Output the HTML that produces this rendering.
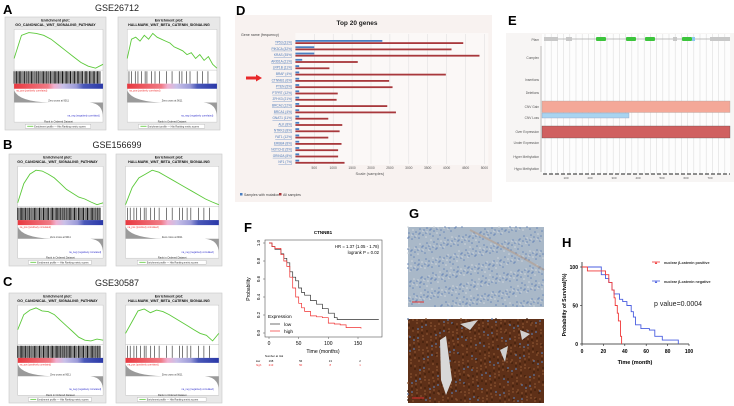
<!DOCTYPE html>
<html><head><meta charset="utf-8"><style>
html,body{margin:0;padding:0;background:#fff;width:734px;height:406px;overflow:hidden}
svg{display:block;font-family:"Liberation Sans",sans-serif}
</style></head><body>
<svg id="fig" width="734" height="406" viewBox="0 0 734 406" xmlns="http://www.w3.org/2000/svg">
<g font-weight="bold" font-size="13" fill="#000">
<text x="3" y="14">A</text>
<text x="3" y="149">B</text>
<text x="3" y="286">C</text>
<text x="236" y="15">D</text>
<text x="508" y="25">E</text>
<text x="244" y="232">F</text>
<text x="409" y="218">G</text>
<text x="562" y="247">H</text>
</g>
<g font-size="9" fill="#222" text-anchor="middle">
<text x="117" y="11">GSE26712</text>
<text x="117" y="148">GSE156699</text>
<text x="117" y="286">GSE30587</text>
</g>
<g id="gsea"></g>
<g id="panelD"></g>
<g id="panelE"></g>
<g id="panelF"></g>
<g id="panelG"></g>
<g id="panelH"></g>
</svg>
<script>
// ---- GSEA data ----
const esA1=[0.3,0.9,0.97,0.95,0.9,0.8,0.65,0.5,0.35,0.2,0.1,0.05,0.15];
const esA2=[0.3,0.8,0.85,0.75,0.9,0.8,0.95,0.85,0.8,0.75,0.7,0.6,0.55,0.5,0.4,0.45,0.3,0.4,0.25,0.35,0.15,0.05];
const esB1=[0.1,0.6,0.85,0.95,0.93,0.85,0.75,0.6,0.45,0.35,0.25,0.2,0.12,0.05,0.1];
const esB2=[0.05,0.5,0.75,0.85,0.95,0.9,0.8,0.7,0.6,0.5,0.4,0.3,0.2,0.12,0.05];
const esC1=[0.4,0.8,0.92,0.98,0.9,0.88,0.8,0.65,0.5,0.35,0.2,0.12,0.1,0.15,0.12];
const esC2=[0.3,0.6,0.9,0.95,0.85,0.92,0.88,0.8,0.7,0.6,0.5,0.4,0.3,0.25,0.1,0.3];
const hitsSparse=[0.02,0.05,0.09,0.12,0.16,0.2,0.22,0.27,0.31,0.36,0.44,0.5,0.58,0.61,0.66,0.7,0.78,0.84,0.9];
// ---- Panel D data ----
const genes=["TP53 (31%)","PIK3CA (32%)","KRAS (35%)","ARID1A (21%)","LRP1B (11%)","BRAF (4%)","CTNNB1 (6%)","PTEN (5%)","PTPRT (12%)","ZFHX3 (21%)","BRCA2 (12%)","BRCA1 (4%)","GNAT1 (11%)","ALK (8%)","NTRK3 (8%)","FAT1 (12%)","ERBB4 (8%)","NOTCH2 (5%)","GRIN2A (8%)","NF1 (7%)"];
const mutSamples=[2300,500,500,180,100,100,100,100,100,100,100,100,100,100,100,100,100,100,100,100];
const allSamples=[4440,4130,4870,1650,900,3980,2480,2570,1120,1090,2430,2660,870,1240,1170,870,1220,1130,1130,1300];
const dTicks=[500,1000,1500,2000,2500,3000,3500,4000,4500,5000];
// ---- Panel F data ----
const kmLowT=[0,5,10,20,25,30,35,40,45,50,55,60,70,80,90,100,110,115,130,150,185];
const kmLowS=[1,0.96,0.93,0.88,0.83,0.78,0.68,0.62,0.58,0.5,0.45,0.42,0.36,0.32,0.27,0.22,0.17,0.15,0.15,0.15,0.15];
const kmHighT=[0,5,10,20,25,30,35,40,45,50,55,60,70,80,90,100,110,120,130,155];
const kmHighS=[1,0.96,0.94,0.87,0.8,0.74,0.62,0.5,0.4,0.33,0.28,0.24,0.19,0.18,0.17,0.11,0.1,0.09,0.06,0.05];
const fXTicks=[0,50,100,150];
const fYTicks=[0,0.2,0.4,0.6,0.8,1.0];
// ---- Panel H data ----
const hPosT=[0,5,20,22,25,28,30,31,33,34,36,37];
const hPosS=[100,95,95,90,80,70,60,50,40,30,10,0];
const hNegT=[0,15,18,22,25,28,30,35,38,42,46,48,50,55,63,68,75,90];
const hNegS=[100,100,90,85,80,70,65,58,55,50,42,35,25,20,18,10,5,0];
const hXTicks=[0,20,40,60,80,100];
const hYTicks=[0,50,100];

const NS="http://www.w3.org/2000/svg";
function mk(parent,tag,attrs,text){const e=document.createElementNS(NS,tag);for(const k in attrs)e.setAttribute(k,attrs[k]);if(text!==undefined)e.textContent=text;parent.appendChild(e);return e;}

// ---------- GSEA ----------
const gsea=document.getElementById('gsea');
const defs=mk(document.getElementById('fig'),'defs',{});
const grad=mk(defs,'linearGradient',{id:'rankGrad',x1:0,x2:1,y1:0,y2:0});
[[0,'#e8383f'],[0.38,'#f07a85'],[0.45,'#f0b0d0'],[0.55,'#c8c0e8'],[0.7,'#9a9ad8'],[0.78,'#4a58b8'],[1,'#2a38a8']].forEach(s=>mk(grad,'stop',{offset:s[0],'stop-color':s[1]}));
function gseaBox(x,y,w,h,title,es,dense,name){
  const g=mk(gsea,'g',{});
  
  
  mk(g,'rect',{x:x,y:y,width:w,height:h,fill:'#e8e8e8',stroke:'#c8c8c8','stroke-width':0.6});
  mk(g,'text',{x:x+w/2,y:y+h*0.04,'font-size':3.6,'font-weight':'bold','text-anchor':'middle',fill:'#111'},'Enrichment plot:');
  mk(g,'text',{x:x+w/2,y:y+h*0.08,'font-size':3.6,'font-weight':'bold','text-anchor':'middle',fill:'#111'},title);
  const px=x+w*0.09, pw=w*0.88;
  const esTop=y+h*0.11, esBot=y+h*0.47;
  mk(g,'rect',{x:px,y:esTop,width:pw,height:h*0.82,fill:'#fff',stroke:'#bbb','stroke-width':0.4});
  let d='';es.forEach((v,i)=>{const xx=px+pw*i/(es.length-1);const yy=esBot-(esBot-esTop-2)*v;d+=(i?'L':'M')+xx.toFixed(1)+' '+yy.toFixed(1);});
  const c=mk(g,'path',{d:d,fill:'none',stroke:'#5cc93a','stroke-width':0.9});
  
  
  mk(g,'line',{x1:px,x2:px+pw,y1:esBot,y2:esBot,stroke:'#999','stroke-width':0.3});
  const hTop=y+h*0.48,hBot=y+h*0.59;
  if(dense){for(let i=0;i<110;i++){const f=i/110;if(f>0.97)break;const xx=px+pw*f+((i*7)%5)*0.2;mk(g,'line',{x1:xx,x2:xx,y1:hTop,y2:hBot,stroke:'#111','stroke-width':(i%3===0?0.9:0.5)});}}
  else{hitsSparse.forEach(f=>{const xx=px+pw*f;mk(g,'line',{x1:xx,x2:xx,y1:hTop,y2:hBot,stroke:'#222','stroke-width':0.6});});}
  mk(g,'rect',{x:px,y:hBot,width:pw,height:h*0.045,fill:'url(#rankGrad)'});
  const mTop=y+h*0.64,mBot=y+h*0.9,mid=mTop+(mBot-mTop)*0.45;
  mk(g,'path',{d:`M${px} ${mTop+1} Q${px+pw*0.05} ${mid-1} ${px+pw*0.4} ${mid} L${px+pw*0.85} ${mid} Q${px+pw} ${mid+1} ${px+pw} ${mBot-1} L${px+pw} ${mid} L${px} ${mid}Z`,fill:'#9a9a9a'});
  mk(g,'text',{x:px+pw*0.5,y:mid-1,'font-size':2.5,'text-anchor':'middle',fill:'#333'},'Zero cross at 9011');
  mk(g,'text',{x:px+2,y:hBot+h*0.07,'font-size':2.4,fill:'#e33'},'na_pos (positively correlated)');
  mk(g,'text',{x:px+pw*0.6,y:mBot-2,'font-size':2.4,fill:'#33c'},'na_neg (negatively correlated)');
  mk(g,'text',{x:px+pw/2,y:y+h*0.935,'font-size':2.6,'text-anchor':'middle',fill:'#333'},'Rank in Ordered Dataset');
  mk(g,'rect',{x:x+w*0.2,y:y+h*0.95,width:w*0.65,height:h*0.035,fill:'#fff',stroke:'#999','stroke-width':0.3});
  mk(g,'line',{x1:x+w*0.22,x2:x+w*0.28,y1:y+h*0.967,y2:y+h*0.967,stroke:'#5cc93a','stroke-width':0.8});
  mk(g,'text',{x:x+w*0.29,y:y+h*0.977,'font-size':2.4,fill:'#333'},'Enrichment profile — Hits    Ranking metric scores');
}
const T1='GO_CANONICAL_WNT_SIGNALING_PATHWAY',T2='HALLMARK_WNT_BETA_CATENIN_SIGNALING';
gseaBox(5,17,101,113,T1,esA1,true,'gsea-a-go-wnt');
gseaBox(118,17,102,113,T2,esA2,false,'gsea-a-hallmark-wnt');
gseaBox(9,154,97,112,T1,esB1,true,'gsea-b-go-wnt');
gseaBox(116,154,106,112,T2,esB2,false,'gsea-b-hallmark-wnt');
gseaBox(9,293,97,110,T1,esC1,true,'gsea-c-go-wnt');
gseaBox(116,293,106,110,T2,esC2,false,'gsea-c-hallmark-wnt');

// ---------- Panel D ----------
(function(){
const P=document.getElementById('panelD');
mk(P,'rect',{x:235,y:15,width:257,height:187,fill:'#f8f2f0'});
const x0=295.4,pxPer=18.9/500;const X=v=>x0+v*pxPer;
const row0=41,step=6.3;const Y=i=>row0+i*step;
mk(P,'rect',{x:x0,y:33,width:X(5000)-x0+4,height:132,fill:'#fbf8f7'});
dTicks.forEach(t=>{const l=mk(P,'line',{x1:X(t),x2:X(t),y1:34,y2:164,stroke:'#ddd','stroke-width':0.5});
 
 mk(P,'text',{x:X(t),y:169,'font-size':3.3,'text-anchor':'middle',fill:'#555'},String(t));});
mk(P,'text',{x:357,y:25,'font-size':6.5,'font-weight':'bold','text-anchor':'middle',fill:'#222'},'Top 20 genes');
mk(P,'text',{x:X(2500)-20,y:175,'font-size':4,'text-anchor':'middle',fill:'#555'},'Scale (samples)');
mk(P,'text',{x:241,y:36,'font-size':3.6,fill:'#444'},'Gene name (frequency)');
genes.forEach((g,i)=>{
 const t=mk(P,'text',{x:292,y:Y(i)+2.5,'font-size':3.2,'text-anchor':'end',fill:'#4a78b8','text-decoration':'underline'},g);
 
 const b=mk(P,'rect',{x:x0,y:Y(i)-1,width:X(mutSamples[i])-x0,height:1.8,fill:'#4a7fc1'});
 
 const r=mk(P,'rect',{x:x0,y:Y(i)+1.2,width:X(allSamples[i])-x0,height:1.8,fill:'#a8383c'});
 
});
mk(P,'path',{d:'M246 76.5 L256 76.5 L256 74.5 L262 78 L256 81.5 L256 79.5 L246 79.5Z',fill:'#e8282a'});
mk(P,'rect',{x:240,y:193,width:2.5,height:2.5,fill:'#4a7fc1'});
mk(P,'text',{x:244,y:196,'font-size':3.5,fill:'#444'},'Samples with mutation');
mk(P,'rect',{x:279,y:193,width:2.5,height:2.5,fill:'#a8383c'});
mk(P,'text',{x:283,y:196,'font-size':3.5,fill:'#444'},'All samples');
})();

// ---------- Panel E ----------
(function(){
const P=document.getElementById('panelE');
mk(P,'rect',{x:506,y:33,width:228,height:149,fill:'#f7f5f4'});
mk(P,'rect',{x:542,y:34,width:188,height:140,fill:'#fdfdfd'});
for(let xx=545;xx<730;xx+=6.2)mk(P,'line',{x1:xx,x2:xx,y1:34,y2:174,stroke:'#ddd','stroke-width':0.6});
mk(P,'line',{x1:545,x2:728,y1:39,y2:39,stroke:'#aaa','stroke-width':0.8});
[[544,14],[566,6],[673,4],[710,20]].forEach(s=>mk(P,'rect',{x:s[0],y:37,width:s[1],height:4,fill:'#c8c8c8'}));
[596,626,645,682].forEach(s=>mk(P,'rect',{x:s,y:37,width:10,height:4,rx:1,fill:'#3cc43c'}));
mk(P,'rect',{x:692,y:37,width:3,height:4,fill:'#8cc8f0'});
const labs=[['Pfam',40],['Complex',58],['Insertions',80],['Deletions',93],['CNV Gain',107],['CNV Loss',118],['Over Expression',132],['Under Expression',143],['Hyper Methylation',157],['Hypo Methylation',169]];
labs.forEach(l=>mk(P,'text',{x:539,y:l[1]+1,'font-size':3.2,'text-anchor':'end',fill:'#555'},l[0]));
mk(P,'line',{x1:541,x2:541,y1:46,y2:172,stroke:'#888','stroke-width':0.5});
const g=mk(P,'rect',{x:542,y:101,width:188,height:11.5,fill:'#f4a898',stroke:'#999','stroke-width':0.3});

const lo=mk(P,'rect',{x:542,y:113,width:87,height:5,fill:'#a8d4f0',stroke:'#88a','stroke-width':0.3});

const ov=mk(P,'rect',{x:542,y:126,width:188,height:12,fill:'#d06060',stroke:'#444','stroke-width':0.3});

mk(P,'line',{x1:543,x2:730,y1:174,y2:174,stroke:'#222','stroke-width':1,'stroke-dasharray':'4 2'});
[100,200,300,400,500,600,700].forEach((t,i)=>mk(P,'text',{x:566+i*24,y:179,'font-size':3,'text-anchor':'middle',fill:'#555'},String(t)));
})();

// ---------- Panel F ----------
(function(){
const P=document.getElementById('panelF');
const X=t=>269+t*(358-269)/150, Y=s=>333-s*(333-243);
mk(P,'rect',{x:265,y:240,width:117,height:97,fill:'#fff',stroke:'#555','stroke-width':0.6});
mk(P,'text',{x:323,y:234,'font-size':4.5,'font-weight':'bold','text-anchor':'middle'},'CTNNB1');
mk(P,'text',{x:379,y:248,'font-size':4.3,'text-anchor':'end'},'HR = 1.37 (1.05 - 1.78)');
mk(P,'text',{x:379,y:254,'font-size':4.3,'text-anchor':'end'},'logrank P = 0.02');
fXTicks.forEach(t=>{mk(P,'line',{x1:X(t),x2:X(t),y1:337,y2:339,stroke:'#555','stroke-width':0.5});mk(P,'text',{x:X(t),y:345,'font-size':5,'text-anchor':'middle'},String(t));});
fYTicks.forEach(v=>{mk(P,'line',{x1:263,x2:265,y1:Y(v),y2:Y(v),stroke:'#555','stroke-width':0.5});mk(P,'text',{x:260,y:Y(v),'font-size':4.5,'text-anchor':'middle',transform:`rotate(-90 260 ${Y(v)})`},v.toFixed(1));});
mk(P,'text',{x:250,y:289,'font-size':5,'text-anchor':'middle',transform:'rotate(-90 250 289)'},'Probability');
mk(P,'text',{x:323,y:353,'font-size':5.2,'text-anchor':'middle'},'Time (months)');
function step(T,S,col,nm){let d='M'+X(T[0])+' '+Y(S[0]);for(let i=1;i<T.length;i++)d+=' L'+X(T[i]).toFixed(1)+' '+Y(S[i-1]).toFixed(1)+' L'+X(T[i]).toFixed(1)+' '+Y(S[i]).toFixed(1);
 const p=mk(P,'path',{d:d,fill:'none',stroke:col,'stroke-width':0.7});}
step(kmLowT,kmLowS,'#333','km-low');step(kmHighT,kmHighS,'#f03030','km-high');
mk(P,'text',{x:268,y:318,'font-size':4.8},'Expression');
mk(P,'line',{x1:270,x2:280,y1:324,y2:324,stroke:'#333','stroke-width':0.7});
mk(P,'text',{x:284,y:326,'font-size':4.8},'low');
mk(P,'line',{x1:270,x2:280,y1:331,y2:331,stroke:'#f03030','stroke-width':0.7});
mk(P,'text',{x:284,y:333,'font-size':4.8},'high');
mk(P,'text',{x:265,y:357,'font-size':2.8},'Number at risk');
const lowN=['168','56','13','2'],highN=['213','50','8','1'];
mk(P,'text',{x:256,y:362,'font-size':2.8},'low');mk(P,'text',{x:256,y:366,'font-size':2.8,fill:'#f03030'},'high');
fXTicks.forEach((t,i)=>{mk(P,'text',{x:X(t)+2,y:362,'font-size':2.8,'text-anchor':'middle'},lowN[i]);mk(P,'text',{x:X(t)+2,y:366,'font-size':2.8,'text-anchor':'middle',fill:'#f03030'},highN[i]);});
})();

// ---------- Panel G ----------
(function(){
const P=document.getElementById('panelG');
const a=mk(P,'rect',{x:408,y:227,width:136,height:80,fill:'#a9b8c8'});

for(let i=0;i<700;i++){const xx=408+((i*37)%136),yy=227+((i*53+i%7)%80);mk(P,'circle',{cx:xx,cy:yy,r:0.8,fill:(i%3?'#6a88b8':'#d0d6dc')});}
mk(P,'path',{d:'M470 230 Q510 250 544 270',stroke:'#b89880','stroke-width':2,fill:'none',opacity:0.5});
mk(P,'line',{x1:412,x2:424,y1:302,y2:302,stroke:'#e03030','stroke-width':1});
const b=mk(P,'rect',{x:408,y:319,width:136,height:84,fill:'#5e3018'});

for(let i=0;i<700;i++){const xx=408+((i*41)%136),yy=319+((i*29+i%5)%84);mk(P,'circle',{cx:xx,cy:yy,r:0.9,fill:(i%6===0?'#5a78a8':(i%3===1?'#3e1e0c':'#8a5430'))});}
mk(P,'path',{d:'M440 340 L446 336 L452 380 L446 395 L441 380Z',fill:'#d8d8d8'});
mk(P,'path',{d:'M460 324 L478 320 L470 330Z M500 350 L508 346 L505 362Z M520 330 L530 334 L522 340Z',fill:'#d0d0d0'});
mk(P,'line',{x1:412,x2:424,y1:398,y2:398,stroke:'#e03030','stroke-width':1});
})();

// ---------- Panel H ----------
(function(){
const P=document.getElementById('panelH');
const X=t=>582+t*(689-582)/100, Y=s=>344-s*(344-267)/100;
mk(P,'line',{x1:582,x2:582,y1:262,y2:344,stroke:'#222','stroke-width':0.8});
mk(P,'line',{x1:582,x2:689,y1:344,y2:344,stroke:'#222','stroke-width':0.8});
hXTicks.forEach(t=>{mk(P,'line',{x1:X(t),x2:X(t),y1:344,y2:346,stroke:'#222','stroke-width':0.6});mk(P,'text',{x:X(t),y:353,'font-size':5,'font-weight':'bold','text-anchor':'middle'},String(t));});
hYTicks.forEach(v=>{mk(P,'line',{x1:580,x2:582,y1:Y(v),y2:Y(v),stroke:'#222','stroke-width':0.6});mk(P,'text',{x:578,y:Y(v)+1.8,'font-size':5,'font-weight':'bold','text-anchor':'end'},String(v));});
mk(P,'text',{x:566,y:305,'font-size':5.2,'font-weight':'bold','text-anchor':'middle',transform:'rotate(-90 566 305)'},'Probability of Survival(%)');
mk(P,'text',{x:635,y:364,'font-size':5.5,'font-weight':'bold','text-anchor':'middle'},'Time (month)');
function step(T,S,col,nm){let d='M'+X(T[0])+' '+Y(S[0]);for(let i=1;i<T.length;i++)d+=' L'+X(T[i]).toFixed(1)+' '+Y(S[i-1]).toFixed(1)+' L'+X(T[i]).toFixed(1)+' '+Y(S[i]).toFixed(1);
 const p=mk(P,'path',{d:d,fill:'none',stroke:col,'stroke-width':0.9});}
step(hNegT,hNegS,'#4a5ee0','curve-negative');step(hPosT,hPosS,'#f03a3a','curve-positive');
mk(P,'line',{x1:652,x2:660,y1:262,y2:262,stroke:'#f03a3a','stroke-width':0.8});mk(P,'text',{x:656,y:264,'font-size':5,'text-anchor':'middle',fill:'#f03a3a'},'▴');
mk(P,'text',{x:664,y:264,'font-size':3.7,'font-weight':'bold',fill:'#333'},'nuclear  β-catenin positive');
mk(P,'line',{x1:652,x2:660,y1:281,y2:281,stroke:'#4a5ee0','stroke-width':0.8});mk(P,'text',{x:656,y:283,'font-size':5,'text-anchor':'middle',fill:'#4a5ee0'},'▴');
mk(P,'text',{x:664,y:283,'font-size':3.7,'font-weight':'bold',fill:'#333'},'nuclear  β-catenin negative');
mk(P,'text',{x:654,y:306,'font-size':7,fill:'#222'},'p value=0.0004');
})();
</script>
</body></html>
